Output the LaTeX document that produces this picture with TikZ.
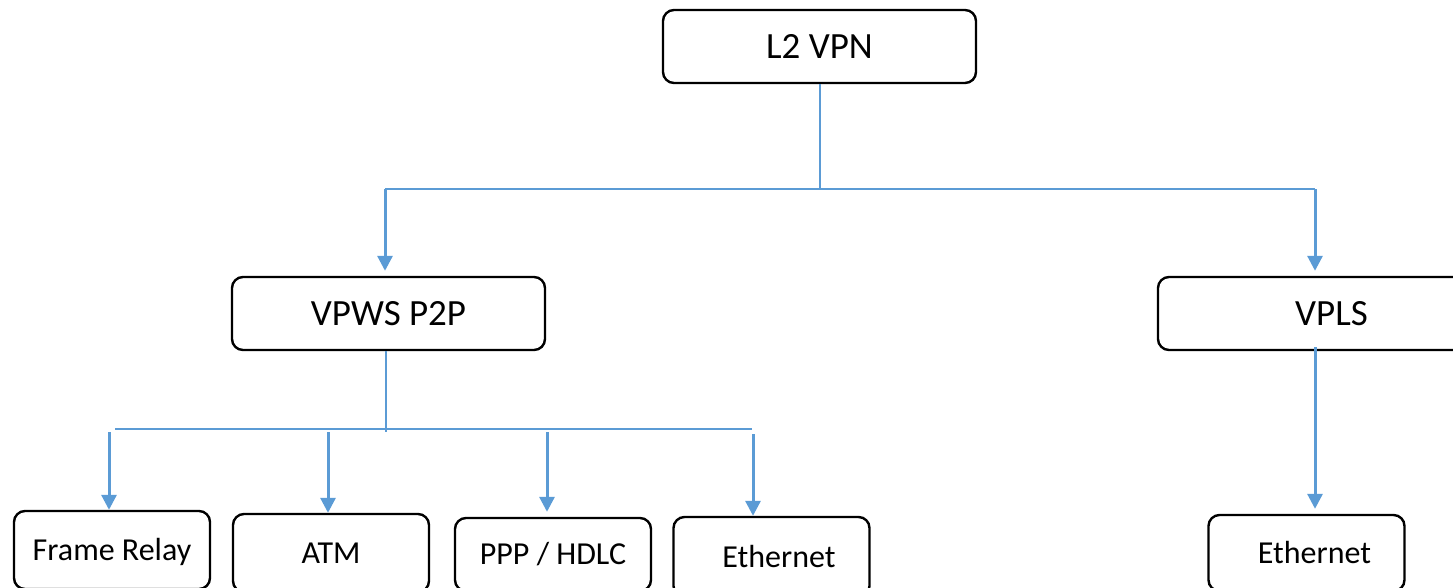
\documentclass[tikz,border=0pt]{standalone}
\usepackage{fontspec}
\setmainfont{Carlito}
\usetikzlibrary{arrows.meta}
\definecolor{lineblue}{HTML}{5B9BD5}
\tikzset{
  box/.style={draw=black, line width=2.4pt, rounded corners=11pt, inner sep=0pt, fill=white},
  bigbox/.style={box, minimum width=313pt, minimum height=73pt, font=\fontsize{37}{41}\selectfont, text height=23.8pt, text depth=0pt},
  smallbox/.style={box, minimum width=196pt, font=\fontsize{32}{37}\selectfont, text height=20.6pt, text depth=0pt},
  thinline/.style={draw=lineblue, line width=1.4pt},
  arr/.style={draw=lineblue, line width=3pt, -{Triangle[width=15pt,length=15pt]}},
}
\begin{document}
\begin{tikzpicture}[x=1pt,y=-1pt]
\useasboundingbox (0,0) rectangle (1453,587);
\clip (0,0) rectangle (1453,587);

% top level
\node[bigbox] (l2) at (819.5,46.5) {L2 VPN};
\node[bigbox] (vpws) at (388.5,313.5) {VPWS P2P};
\node[bigbox] (vpls) at (1314.5,313.5) {\hspace*{34pt}VPLS};

% bottom level
\node[smallbox, minimum height=78pt] (fr) at (112,550) {Frame Relay};
\node[smallbox, minimum height=78pt] (atm) at (331,553) {ATM};
\node[smallbox, minimum height=73pt] (ppp) at (553,554.5) {PPP / HDLC};
\node[smallbox, minimum height=80pt] (eth1) at (771.5,557) {\hspace*{15pt}Ethernet};
\node[smallbox, minimum height=76pt] (eth2) at (1306.5,553) {\hspace*{16pt}Ethernet};

% first branch
\coordinate (j1) at (820,189);
\coordinate (j1l) at (385,189);
\coordinate (j1r) at (1315,189);
\draw[thinline] (j1 |- l2.south) -- (j1);
\draw[thinline] (j1l) -- (j1r);
\draw[arr, shorten >=5pt] (j1l) -- (j1l |- vpws.north);
\draw[arr, shorten >=5pt] (j1r) -- (j1r |- vpls.north);

% second branch
\coordinate (j2) at (386,432);
\coordinate (h2l) at (115,429);
\coordinate (h2r) at (752,429);
\draw[thinline] (j2 |- vpws.south) -- (j2);
\draw[thinline] (h2l) -- (h2r);
\coordinate (a1) at (109,432);
\coordinate (a2) at (328,432);
\coordinate (a3) at (547,432);
\coordinate (a4) at (753,434);
\draw[arr] (a1) -- (a1 |- fr.north);
\draw[arr] (a2) -- (a2 |- atm.north);
\draw[arr, shorten >=5pt] (a3) -- (a3 |- ppp.north);
\draw[arr] (a4) -- (a4 |- eth1.north);

% VPLS branch
\coordinate (v1) at (1315,347);
\draw[arr, shorten >=5pt] (v1) -- (v1 |- eth2.north);
\end{tikzpicture}
\end{document}
